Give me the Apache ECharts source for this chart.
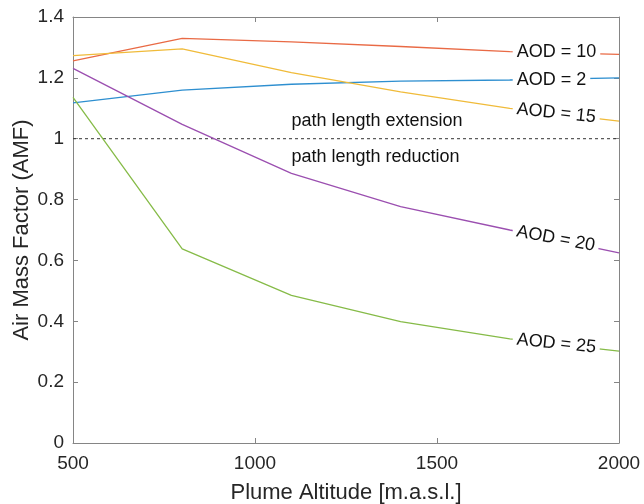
<!DOCTYPE html>
<html>
<head>
<meta charset="utf-8">
<script src="https://cdn.jsdelivr.net/npm/echarts@6/dist/echarts.min.js"></script>
<style>
  html, body { margin: 0; background: #fff; }
  #chart { width: 644px; height: 504px; }
</style>
</head>
<body>
<div id="chart"></div>
<script>
// plume altitude and air mass factor for each aerosol optical depth
const altitude = [500, 800, 1100, 1400, 1700, 2000];
const aod2  = [1.118, 1.160, 1.179, 1.189, 1.193, 1.200];
const aod10 = [1.256, 1.330, 1.318, 1.303, 1.286, 1.277];
const aod15 = [1.273, 1.295, 1.217, 1.154, 1.100, 1.058];
const aod20 = [1.231, 1.047, 0.886, 0.777, 0.700, 0.625];
const aod25 = [1.136, 0.638, 0.485, 0.399, 0.342, 0.302];

const curveNames = ['AOD = 10', 'AOD = 2', 'AOD = 15', 'AOD = 20', 'AOD = 25'];
const curveValues = [aod10, aod2, aod15, aod20, aod25];
const curveColors = ['#e96a45', '#2e8fd0', '#f0bb3a', '#9b4fb0', '#86bb48'];

const xMin = 500, xMax = 2000, xStep = 500;
const yMin = 0, yMax = 1.4, yStep = 0.2;
const refLevel = 1;
const refTexts = ['path length extension', 'path length reduction'];

const font = '"Liberation Sans", Arial, Helvetica, sans-serif';
const axisGray = '#858585';
const textDark = '#262626';

const chart = echarts.init(document.getElementById('chart'));

// label sits on the last segment, just after the 1700 point
const labelX = 1708;
function labelY(v) {
  const n = v.length;
  const t = (labelX - altitude[n - 2]) / (altitude[n - 1] - altitude[n - 2]);
  return v[n - 2] + (v[n - 1] - v[n - 2]) * t;
}

function makeSeries(rotations) {
  const lines = curveValues.map((vals, i) => ({
    name: curveNames[i],
    type: 'line',
    data: altitude.map((x, j) => [x, vals[j]]),
    showSymbol: false,
    symbol: 'none',
    lineStyle: { color: curveColors[i], width: 1.3 },
    z: 2,
    markPoint: {
      symbol: 'circle',
      symbolSize: 1,
      itemStyle: { color: 'rgba(0,0,0,0)' },
      silent: true,
      z: 5,
      data: [{
        coord: [labelX, labelY(vals)],
        label: {
          show: true,
          position: 'inside',
          align: 'left',
          verticalAlign: 'middle',
          formatter: curveNames[i],
          rotate: rotations[i],
          fontFamily: font,
          fontSize: 18,
          color: '#111',
          backgroundColor: '#fff',
          padding: [1, 4]
        }
      }]
    }
  }));
  lines.push({
    name: 'reference',
    type: 'line',
    data: [[xMin, refLevel], [xMax, refLevel]],
    symbol: 'none',
    lineStyle: { color: '#333', width: 1, type: [3, 3] },
    z: 1,
    markPoint: {
      symbol: 'circle',
      symbolSize: 1,
      itemStyle: { color: 'rgba(0,0,0,0)' },
      silent: true,
      label: {
        show: true,
        position: 'inside',
        align: 'left',
        verticalAlign: 'middle',
        fontFamily: font,
        fontSize: 18,
        color: '#111'
      },
      data: [
        { coord: [1100, 1.058], label: { formatter: refTexts[0] } },
        { coord: [1100, 0.940], label: { formatter: refTexts[1] } }
      ]
    }
  });
  return lines;
}

const tickStyle = { show: true, inside: true, length: 5, lineStyle: { color: axisGray } };
const lineStyleAxis = { show: true, onZero: false, lineStyle: { color: axisGray, width: 1 } };

chart.setOption({
  animation: false,
  backgroundColor: '#fff',
  grid: { left: 73, right: 25, top: 17, bottom: 61, containLabel: false, outerBoundsMode: 'none' },
  xAxis: [{
    type: 'value', min: xMin, max: xMax, interval: xStep,
    name: 'Plume Altitude [m.a.s.l.]', nameLocation: 'middle', nameGap: 39,
    nameTextStyle: { fontFamily: font, fontSize: 22, color: textDark },
    axisLine: lineStyleAxis, axisTick: tickStyle,
    axisLabel: {
      fontFamily: font, fontSize: 19, color: textDark, margin: 11,
      formatter: v => String(v)
    },
    splitLine: { show: false }
  }, {
    type: 'value', position: 'top', min: xMin, max: xMax, interval: xStep,
    axisLine: lineStyleAxis, axisTick: tickStyle,
    axisLabel: { show: false }, splitLine: { show: false }
  }],
  yAxis: [{
    type: 'value', min: yMin, max: yMax, interval: yStep,
    name: 'Air Mass Factor (AMF)', nameLocation: 'middle', nameGap: 40,
    nameMoveOverlap: false,
    nameTextStyle: { fontFamily: font, fontSize: 22, color: textDark },
    axisLine: lineStyleAxis, axisTick: tickStyle,
    axisLabel: { fontFamily: font, fontSize: 19, color: textDark, margin: 9 },
    splitLine: { show: false }
  }, {
    type: 'value', position: 'right', min: yMin, max: yMax, interval: yStep,
    axisLine: lineStyleAxis, axisTick: tickStyle,
    axisLabel: { show: false }, splitLine: { show: false }
  }],
  series: makeSeries(curveValues.map(() => 0))
});

// tilt each label to follow its curve's last segment on screen
const rotations = curveValues.map((v, i) => {
  const a = chart.convertToPixel({ seriesIndex: i }, [altitude[4], v[4]]);
  const b = chart.convertToPixel({ seriesIndex: i }, [altitude[5], v[5]]);
  const deg = -Math.atan2(b[1] - a[1], b[0] - a[0]) * 180 / Math.PI;
  return Math.abs(deg) < 2 ? 0 : deg * 0.9;
});
chart.setOption({ series: makeSeries(rotations) });
</script>
</body>
</html>
